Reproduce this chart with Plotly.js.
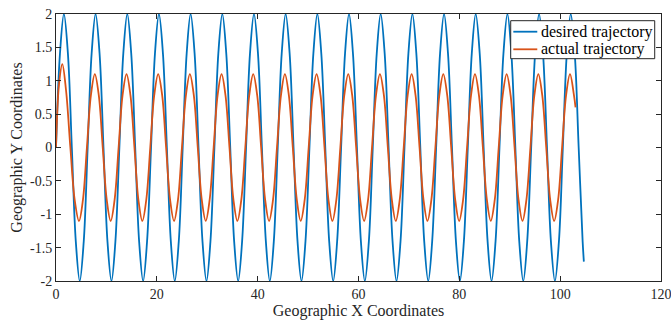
<!DOCTYPE html>
<html>
<head>
<meta charset="utf-8">
<script src="https://cdn.plot.ly/plotly-3.0.1.min.js"></script>
<style>html,body{margin:0;padding:0;background:#fff;}#chart{width:671px;height:320px;}</style>
</head>
<body>
<div id="chart"></div>
<script>
const desiredX = [
  0, 0.79, 1.57, 2.36, 3.14, 3.93, 4.71, 5.50,
  6.28, 7.07, 7.85, 8.64, 9.42, 10.21, 11.00, 11.78,
  12.57, 13.35, 14.14, 14.92, 15.71, 16.49, 17.28, 18.06,
  18.85, 19.63, 20.42, 21.21, 21.99, 22.78, 23.56, 24.35,
  25.13, 25.92, 26.70, 27.49, 28.27, 29.06, 29.85, 30.63,
  31.42, 32.20, 32.99, 33.77, 34.56, 35.34, 36.13, 36.91,
  37.70, 38.48, 39.27, 40.06, 40.84, 41.63, 42.41, 43.20,
  43.98, 44.77, 45.55, 46.34, 47.12, 47.91, 48.69, 49.48,
  50.27, 51.05, 51.84, 52.62, 53.41, 54.19, 54.98, 55.76,
  56.55, 57.33, 58.12, 58.90, 59.69, 60.48, 61.26, 62.05,
  62.83, 63.62, 64.40, 65.19, 65.97, 66.76, 67.54, 68.33,
  69.12, 69.90, 70.69, 71.47, 72.26, 73.04, 73.83, 74.61,
  75.40, 76.18, 76.97, 77.75, 78.54, 79.33, 80.11, 80.90,
  81.68, 82.47, 83.25, 84.04, 84.82, 85.61, 86.39, 87.18,
  87.96, 88.75, 89.54, 90.32, 91.11, 91.89, 92.68, 93.46,
  94.25, 95.03, 95.82, 96.60, 97.39, 98.17, 98.96, 99.75,
  100.53, 101.32, 102.10, 102.89, 103.67, 104.46, 104.70
];
const desiredY = [
  0, 1.41, 2, 1.41, 0, -1.41, -2, -1.41,
  0, 1.41, 2, 1.41, 0, -1.41, -2, -1.41,
  0, 1.41, 2, 1.41, 0, -1.41, -2, -1.41,
  0, 1.41, 2, 1.41, 0, -1.41, -2, -1.41,
  0, 1.41, 2, 1.41, 0, -1.41, -2, -1.41,
  0, 1.41, 2, 1.41, 0, -1.41, -2, -1.41,
  0, 1.41, 2, 1.41, 0, -1.41, -2, -1.41,
  0, 1.41, 2, 1.41, 0, -1.41, -2, -1.41,
  0, 1.41, 2, 1.41, 0, -1.41, -2, -1.41,
  0, 1.41, 2, 1.41, 0, -1.41, -2, -1.41,
  0, 1.41, 2, 1.41, 0, -1.41, -2, -1.41,
  0, 1.41, 2, 1.41, 0, -1.41, -2, -1.41,
  0, 1.41, 2, 1.41, 0, -1.41, -2, -1.41,
  0, 1.41, 2, 1.41, 0, -1.41, -2, -1.41,
  0, 1.41, 2, 1.41, 0, -1.41, -2, -1.41,
  0, 1.41, 2, 1.41, 0, -1.41, -2, -1.41,
  0, 1.41, 2, 1.41, 0, -1.41, -1.71
];

// Actual trajectory (orange)
const actualX = [
  0, 0.6, 1.25, 2.0, 2.85, 3.7,
  4.56, 5.35, 6.13, 6.92, 7.70, 8.49, 9.27, 10.06,
  10.85, 11.63, 12.42, 13.20, 13.99, 14.77, 15.56, 16.34,
  17.13, 17.91, 18.70, 19.48, 20.27, 21.06, 21.84, 22.63,
  23.41, 24.20, 24.98, 25.77, 26.55, 27.34, 28.12, 28.91,
  29.70, 30.48, 31.27, 32.05, 32.84, 33.62, 34.41, 35.19,
  35.98, 36.76, 37.55, 38.33, 39.12, 39.91, 40.69, 41.48,
  42.26, 43.05, 43.83, 44.62, 45.40, 46.19, 46.97, 47.76,
  48.54, 49.33, 50.12, 50.90, 51.69, 52.47, 53.26, 54.04,
  54.83, 55.61, 56.40, 57.18, 57.97, 58.75, 59.54, 60.33,
  61.11, 61.90, 62.68, 63.47, 64.25, 65.04, 65.82, 66.61,
  67.39, 68.18, 68.97, 69.75, 70.54, 71.32, 72.11, 72.89,
  73.68, 74.46, 75.25, 76.03, 76.82, 77.60, 78.39, 79.18,
  79.96, 80.75, 81.53, 82.32, 83.10, 83.89, 84.67, 85.46,
  86.24, 87.03, 87.81, 88.60, 89.39, 90.17, 90.96, 91.74,
  92.53, 93.31, 94.10, 94.88, 95.67, 96.45, 97.24, 98.02,
  98.81, 99.60, 100.38, 101.17, 101.95, 102.74, 103.05
];
const actualY = [
  0, 0.95, 1.25, 0.85, 0, -0.78,
  -1.1, -0.78, 0, 0.78, 1.1, 0.78, 0, -0.78,
  -1.1, -0.78, 0, 0.78, 1.1, 0.78, 0, -0.78,
  -1.1, -0.78, 0, 0.78, 1.1, 0.78, 0, -0.78,
  -1.1, -0.78, 0, 0.78, 1.1, 0.78, 0, -0.78,
  -1.1, -0.78, 0, 0.78, 1.1, 0.78, 0, -0.78,
  -1.1, -0.78, 0, 0.78, 1.1, 0.78, 0, -0.78,
  -1.1, -0.78, 0, 0.78, 1.1, 0.78, 0, -0.78,
  -1.1, -0.78, 0, 0.78, 1.1, 0.78, 0, -0.78,
  -1.1, -0.78, 0, 0.78, 1.1, 0.78, 0, -0.78,
  -1.1, -0.78, 0, 0.78, 1.1, 0.78, 0, -0.78,
  -1.1, -0.78, 0, 0.78, 1.1, 0.78, 0, -0.78,
  -1.1, -0.78, 0, 0.78, 1.1, 0.78, 0, -0.78,
  -1.1, -0.78, 0, 0.78, 1.1, 0.78, 0, -0.78,
  -1.1, -0.78, 0, 0.78, 1.1, 0.78, 0, -0.78,
  -1.1, -0.78, 0, 0.78, 1.1, 0.78, 0, -0.78,
  -1.1, -0.78, 0, 0.78, 1.1, 0.78, 0.6
];

const xTickVals = [0, 20, 40, 60, 80, 100, 120];
const xTickText = ['0', '20', '40', '60', '80', '100', '120'];
const yTickVals = [-2, -1.5, -1, -0.5, 0, 0.5, 1, 1.5, 2];
const yTickText = ['-2', '-1.5', '-1', '-0.5', '0', '0.5', '1', '1.5', '2'];
const seriesNames = ['desired trajectory', 'actual trajectory'];
const seriesColors = ['#0072BD', '#D95319'];

const axisColor = '#262626';
const fontFam = 'Liberation Serif';

const traces = [
  {x: desiredX, y: desiredY, name: seriesNames[0], type: 'scatter', mode: 'lines',
   line: {color: seriesColors[0], width: 1.8, shape: 'spline', smoothing: 1}},
  {x: actualX, y: actualY, name: seriesNames[1], type: 'scatter', mode: 'lines',
   line: {color: seriesColors[1], width: 1.8, shape: 'spline', smoothing: 1}}
];

const axisCommon = {
  showline: true, linecolor: axisColor, linewidth: 1, mirror: 'ticks',
  ticks: 'inside', ticklen: 5, tickcolor: axisColor, tickwidth: 1,
  showgrid: false, zeroline: false,
  tickfont: {family: fontFam, size: 14, color: axisColor},
  ticklabeloverflow: 'allow',
  tickmode: 'array'
};

// Compact MATLAB-style legend box (paper coordinates)
const legBox = {x0: 0.7516, x1: 0.9896, y0: 0.8326, y1: 0.9749};
const legRows = [0.9337, 0.8678];
const legLine = {x0: 0.7559, x1: 0.7955};
const legTextX = 0.80;

const shapes = [
  {type: 'rect', xref: 'paper', yref: 'paper', x0: legBox.x0, x1: legBox.x1, y0: legBox.y0, y1: legBox.y1,
   line: {color: axisColor, width: 1}, fillcolor: '#ffffff', layer: 'above'}
];
const annotations = [];
seriesNames.forEach((nm, i) => {
  shapes.push({type: 'line', xref: 'paper', yref: 'paper', x0: legLine.x0, x1: legLine.x1,
    y0: legRows[i], y1: legRows[i], line: {color: seriesColors[i], width: 1.8}, layer: 'above'});
  annotations.push({xref: 'paper', yref: 'paper', x: legTextX, y: legRows[i], xanchor: 'left', yanchor: 'middle',
    text: nm, showarrow: false, font: {family: fontFam, size: 16, color: '#000000'}, borderpad: 0});
});

const layout = {
  width: 671, height: 320,
  margin: {l: 56, r: 10, t: 14, b: 39, pad: 0},
  paper_bgcolor: '#ffffff', plot_bgcolor: '#ffffff',
  font: {family: fontFam, color: axisColor},
  showlegend: false,
  shapes: shapes,
  annotations: annotations,
  xaxis: Object.assign({}, axisCommon, {
    range: [0, 120], tickvals: xTickVals, ticktext: xTickText,
    title: {text: 'Geographic X Coordinates', font: {family: fontFam, size: 16, color: axisColor}, standoff: 2}
  }),
  yaxis: Object.assign({}, axisCommon, {
    range: [-2, 2], tickvals: yTickVals, ticktext: yTickText,
    title: {text: 'Geographic Y Coordinates', font: {family: fontFam, size: 16, color: axisColor}, standoff: 3}
  })
};

Plotly.newPlot('chart', traces, layout, {displayModeBar: false, staticPlot: true});
</script>
</body>
</html>
